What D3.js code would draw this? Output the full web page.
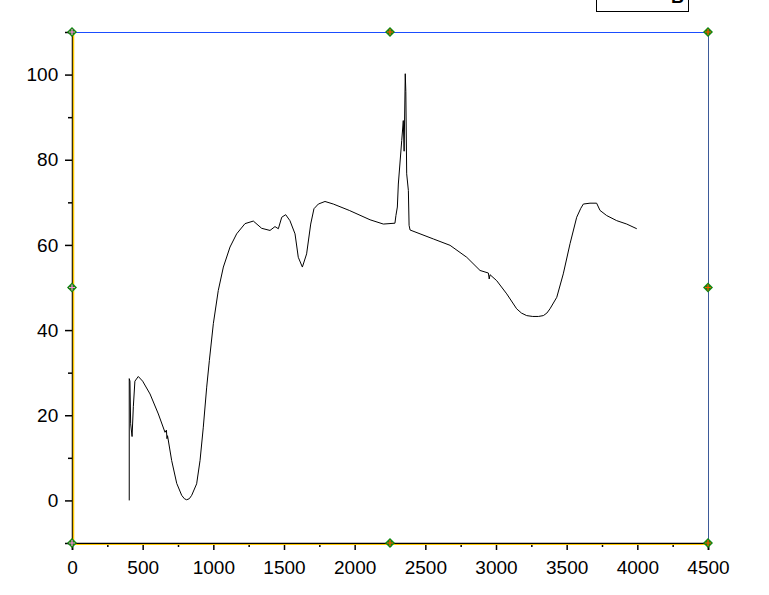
<!DOCTYPE html>
<html>
<head>
<meta charset="utf-8">
<script src="https://cdn.jsdelivr.net/npm/d3@7"></script>
<style>
  body { margin: 0; background: #fff; }
  svg { display: block; font-family: "Liberation Sans", Arial, sans-serif; }
</style>
</head>
<body>
<div id="chart"></div>
<script>
// data
const xValues = [405, 405, 410, 415, 425, 434, 445, 469, 500, 552, 611, 658, 668, 672, 676, 705, 741, 776, 795, 811, 830, 847, 882, 906, 929, 953, 972,
  1000, 1035, 1071, 1118, 1165, 1224, 1283, 1342, 1401, 1436, 1460, 1484, 1512, 1542, 1578, 1601, 1630, 1660, 1689, 1712, 1743, 1790, 1849, 1962,
  2109, 2203, 2285, 2292, 2302, 2309, 2333, 2344, 2350, 2358, 2362, 2368, 2380, 2385, 2392, 2557, 2675, 2793, 2887, 2946, 2952, 2958, 3005,
  3076, 3146, 3180, 3217, 3260, 3300, 3335, 3360, 3382, 3430, 3476, 3524, 3571, 3600, 3618, 3665, 3712, 3736, 3783, 3854, 3925, 3996];
const yValues = [0, 28.6, 28.0, 18.0, 15.0, 22.0, 28.0, 29.1, 28.0, 25.0, 20.3, 16.0, 16.5, 14.5, 15.2, 9.4, 4.0, 1.2, 0.4, 0.15, 0.4, 1.2, 3.9, 9.4, 17.2, 26.6, 32.9,
  41.5, 49.3, 54.8, 59.5, 62.6, 65.0, 65.6, 63.9, 63.4, 64.3, 63.8, 66.5, 67.1, 65.7, 62.6, 57.1, 54.8, 57.9, 64.9, 68.5, 69.6, 70.2, 69.6, 68.1,
  65.9, 64.9, 65.1, 66.9, 68.9, 74.3, 84.5, 89.2, 82.0, 100.2, 96.0, 76.7, 72.8, 64.6, 63.5, 61.4, 59.9, 57.1, 54.0, 53.4, 52.0, 53.0, 51.6,
  48.5, 45.0, 44.0, 43.4, 43.2, 43.2, 43.4, 44.0, 45.0, 47.7, 53.2, 60.3, 66.5, 68.6, 69.6, 69.8, 69.8, 68.1, 66.9, 65.7, 64.9, 63.8];
const xTicks = [0, 500, 1000, 1500, 2000, 2500, 3000, 3500, 4000, 4500];
const yTicks = [0, 20, 40, 60, 80, 100];
const markerX = [0, 2250, 4500];

const W = 769, H = 595;
const svg = d3.select("#chart").append("svg").attr("width", W).attr("height", H);

const x = d3.scaleLinear().domain([0, 4500]).range([72, 708]);
const y = d3.scaleLinear().domain([-10, 110]).range([543, 32]);

// top and right frame
svg.append("line").attr("x1", x(0)).attr("x2", x(4500)).attr("y1", y(110) + 0.5).attr("y2", y(110) + 0.5)
  .attr("stroke", "#1a4dff").attr("stroke-width", 1);
svg.append("line").attr("x1", x(4500) + 0.5).attr("x2", x(4500) + 0.5).attr("y1", y(110)).attr("y2", y(-10))
  .attr("stroke", "#3d5a99").attr("stroke-width", 1);

// bottom axis
const xAxis = svg.append("g").attr("transform", `translate(0,${y(-10)})`)
  .call(d3.axisBottom(x).tickValues(xTicks).tickSize(7).tickFormat(d3.format("d")));
svg.append("g").attr("transform", `translate(0,${y(-10)})`)
  .call(d3.axisBottom(x).tickValues(d3.range(250, 4500, 500)).tickSize(4).tickFormat(""))
  .select(".domain").remove();

// left axis
const yAxis = svg.append("g").attr("transform", `translate(${x(0)},0)`)
  .call(d3.axisLeft(y).tickValues(yTicks).tickSize(7));
svg.append("g").attr("transform", `translate(${x(0)},0)`)
  .call(d3.axisLeft(y).tickValues(d3.range(-10, 111, 20)).tickSize(4).tickFormat(""))
  .select(".domain").remove();

svg.selectAll(".domain").attr("stroke", "#000").attr("stroke-width", 1.5);
svg.selectAll(".tick line").attr("stroke", "#000").attr("stroke-width", 1.5);
xAxis.selectAll("text").attr("font-size", 19).attr("fill", "#000").attr("dy", "1.1em");
yAxis.selectAll("text").attr("font-size", 19).attr("fill", "#000").attr("dx", "-0.2em");

// yellow highlight next to the axes
svg.append("line").attr("x1", x(0) + 1.5).attr("x2", x(0) + 1.5).attr("y1", y(110)).attr("y2", y(-10))
  .attr("stroke", "#ffc800").attr("stroke-width", 1.5);
svg.append("line").attr("x1", x(0)).attr("x2", x(4500)).attr("y1", y(-10) + 1.5).attr("y2", y(-10) + 1.5)
  .attr("stroke", "#ffc800").attr("stroke-width", 1);

// curve
const pts = xValues.map((v, i) => [v, yValues[i]]);
svg.append("path").datum(pts)
  .attr("fill", "none").attr("stroke", "#000").attr("stroke-width", 1)
  .attr("d", d3.line().x(d => x(d[0])).y(d => y(d[1])));

// selection markers on the frame
const markers = [];
markerX.forEach(mx => { markers.push([mx, -10]); markers.push([mx, 110]); });
markers.push([0, 50]); markers.push([4500, 50]);
const mg = svg.append("g").selectAll("g").data(markers).join("g")
  .attr("transform", d => `translate(${x(d[0])},${y(d[1])})`);
mg.append("path").attr("d", "M0,-5L5,0L0,5L-5,0Z").attr("fill", "#118811");
mg.append("path").attr("d", "M-3,0H3M0,-3V3").attr("stroke", d => d[0] === 0 ? "#ff88dd" : "#ff5500").attr("stroke-width", 1.2);

// legend box, mostly off the top edge
svg.append("rect").attr("x", 596.5).attr("y", -30).attr("width", 92).attr("height", 41.5)
  .attr("fill", "#fff").attr("stroke", "#000").attr("stroke-width", 1);
svg.append("text").attr("x", 684).attr("y", 3).attr("text-anchor", "end")
  .attr("font-size", 18).attr("font-weight", "bold").attr("fill", "#000").text("B");
</script>
</body>
</html>
